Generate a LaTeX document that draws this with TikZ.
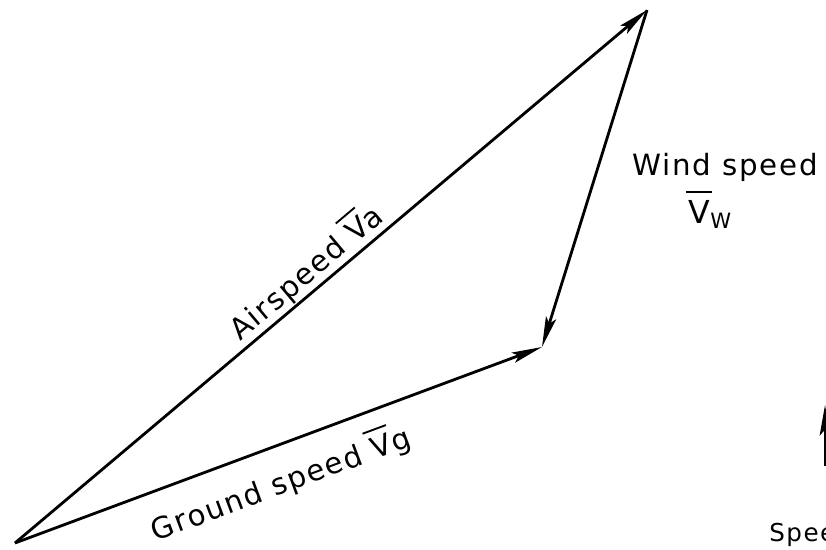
\documentclass[tikz,border=0pt]{standalone}
\usepackage{fontspec}
\setmainfont{DejaVu Sans}[LetterSpace=6]
\usetikzlibrary{arrows.meta}

% V with a bar set well above it
\newcommand{\vbar}{\leavevmode\rlap{\hspace{-0.1em}\rule[0.95em]{0.85em}{1.6pt}}V}

\tikzset{
  vec/.style={line width=2.4pt, -{Stealth[length=26pt,width=9pt,inset=5pt]}},
  lbl/.style={font=\fontsize{25}{30}\selectfont, inner sep=1pt}
}

\begin{document}
\begin{tikzpicture}[x=0.03cm, y=-0.03cm]
            % Page frame
            \useasboundingbox (0,0) rectangle (826,549);
            \clip (0,0) rectangle (826,549);

            % Corners of the triangle
            \coordinate (O) at (15,543);
            \coordinate (A) at (647,10);
            \coordinate (B) at (542,347);

            % Airspeed and ground speed vectors
            \draw[vec] (O) -- (A) node[lbl, pos=0.48, sloped, above=0pt] (air) {Airspeed \vbar a};
            \draw[vec] (O) -- (B) node[lbl, pos=0.48, sloped, below=13pt] (ground) {Ground speed \vbar g};

            % Wind vector
            \draw[vec] (A) -- (B);
            \node[lbl, anchor=base] (wind) at (725,175) {Wind speed};
            \node[lbl, anchor=base] (vw) at (710,223) {{\fontsize{27}{30}\selectfont\vbar}\raisebox{-5pt}{\fontsize{18}{20}\selectfont W}};

            % Cut-off part at the right edge
            \coordinate (s1) at (825,466);
            \coordinate (s2) at (825,405);
            \draw[vec] (s1) -- (s2);
            \node[lbl, font=\fontsize{21}{24}\selectfont, anchor=base west] (spee) at (768,541) {Spee};
        \end{tikzpicture}
\end{document}
